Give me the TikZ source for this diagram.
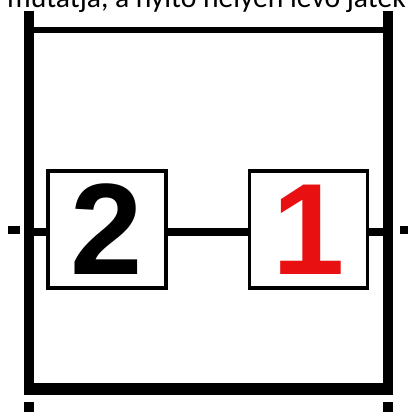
\documentclass[tikz,border=0pt]{standalone}
\usepackage{fontspec}
\setmainfont{Liberation Sans}
\newfontfamily\toptextfont{Carlito}
\definecolor{digitred}{RGB}{232,16,16}
\begin{document}
\begin{tikzpicture}[x=1pt,y=-1pt,
  boxnode/.style={draw=black,line width=3.5pt,fill=white,minimum width=118pt,minimum height=117pt,inner sep=0pt,text depth=0pt,font=\fontsize{130}{130}\selectfont\bfseries},
  frameline/.style={line width=10pt,line cap=butt},
  wire/.style={line width=8pt}]
\useasboundingbox (0,0) rectangle (408,412);
\clip (0,0) rectangle (408,412);
% cut-off caption at top
\node[anchor=base west,inner sep=0pt,font=\toptextfont\fontsize{29.6}{29.6}\selectfont] (caption) at (7,8) {mutatja, a nyitó helyen levő játék};
% frame
\draw[frameline] (29,11) -- (29,395);
\draw[frameline] (388,11) -- (388,395);
\draw[line width=6pt] (34,30) -- (383,30);
\draw[line width=12pt] (24,389) -- (393,389);
% bottom stubs
\fill (24,402) rectangle (34,412);
\fill (383,402) rectangle (393,412);
% side stubs
\fill (8,226) rectangle (20,234);
\fill (400,226) rectangle (408,234);
% boxes
\node[boxnode] (two) at (107,229.5) {2};
\node[boxnode,text=digitred] (one) at (308.5,229.5) {1};
\coordinate (lin) at (34,232);
\coordinate (rin) at (383,232);
\draw[wire] (lin) -- (lin -| two.west);
\draw[wire] (two.east |- lin) -- (one.west |- lin);
\draw[wire] (one.east |- rin) -- (rin);
\end{tikzpicture}
\end{document}
